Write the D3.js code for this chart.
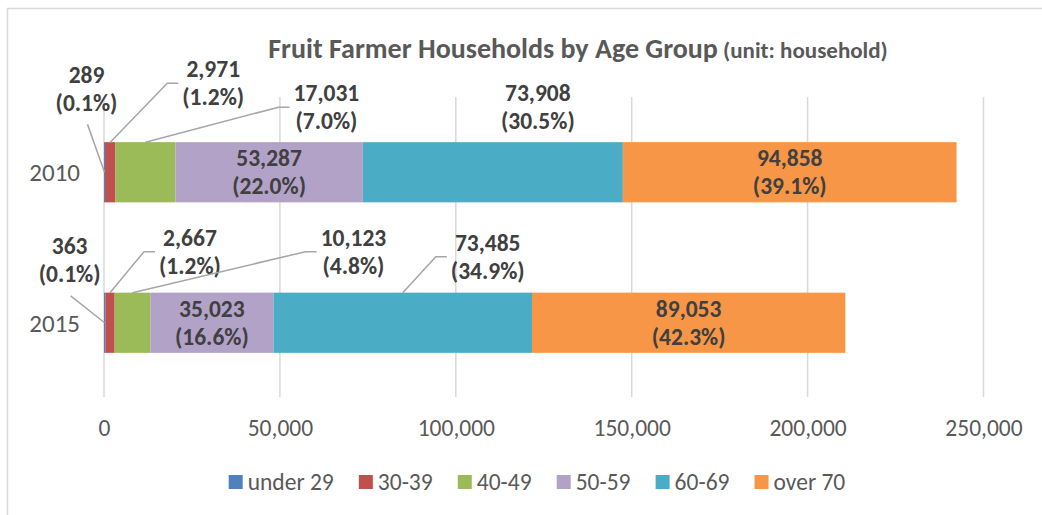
<!DOCTYPE html>
<html>
<head>
<meta charset="utf-8">
<script src="https://cdn.jsdelivr.net/npm/d3@7"></script>
<style>
  html, body { margin: 0; padding: 0; background: #fff; }
  svg { display: block; font-family: Carlito, Lato, "Open Sans", sans-serif; }
</style>
</head>
<body>
<svg id="chart" width="1042" height="515"></svg>
<script>
// ---------------- data ----------------
const categories = ["2010", "2015"];
const seriesNames = ["under 29", "30-39", "40-49", "50-59", "60-69", "over 70"];
const values2010 = [289, 2971, 17031, 53287, 73908, 94858];
const values2015 = [363, 2667, 10123, 35023, 73485, 89053];
const percent2010 = ["0.1%", "1.2%", "7.0%", "22.0%", "30.5%", "39.1%"];
const percent2015 = ["0.1%", "1.2%", "4.8%", "16.6%", "34.9%", "42.3%"];
const xTickValues = [0, 50000, 100000, 150000, 200000, 250000];
const titleMain = "Fruit Farmer Households by Age Group";
const titleUnit = " (unit: household)";

// ---------------- styles / layout ----------------
const colors = ["#4F81BD", "#C0504D", "#9BBB59", "#B3A2C7", "#4BACC6", "#F79646"];
const W = 1042, H = 515;
const plot = { left: 104, right: 983.5, top: 97, bottom: 398 };
const labelColor = "#404040";
const axisTextColor = "#595959";
const gridColor = "#D9D9D9";
const leaderColor = "#A6A6A6";

// label placement: "inside" = centred in segment; otherwise offsets (px) from the segment's top-centre
// leader: "stub" = horizontal stub at the label's left then a line to the bar top,
//         "drop" = from under the label to the segment's mid-height
const labelPlacement = {
  "2010": [
    { dx: -18, dy: -53, leader: "drop", gap: 7 },
    { dx: 103, dy: -59, leader: "stub" },
    { dx: 181, dy: -35, leader: "stub" },
    { inside: true },
    { dx: 45, dy: -35, leader: "none" },
    { inside: true }
  ],
  "2015": [
    { dx: -35, dy: -33, leader: "drop", gap: 8 },
    { dx: 80, dy: -41, leader: "stub" },
    { dx: 221, dy: -41, leader: "stub" },
    { inside: true },
    { dx: 85, dy: -36, leader: "stub" },
    { inside: true }
  ]
};

const valuesByCat = { "2010": values2010, "2015": values2015 };
const pctByCat = { "2010": percent2010, "2015": percent2015 };

const rows = categories.map(c => {
  const r = { category: c };
  seriesNames.forEach((s, i) => r[s] = valuesByCat[c][i]);
  return r;
});
const stacked = d3.stack().keys(seriesNames)(rows);

const svg = d3.select("#chart");

// chart border (Excel chart area)
svg.append("rect")
  .attr("x", 7.5).attr("y", 8.5)
  .attr("width", W + 20).attr("height", H + 20)
  .attr("fill", "#fff")
  .attr("stroke", "#D9D9D9").attr("stroke-width", 1.5);

const x = d3.scaleLinear().domain([0, 250000]).range([plot.left, plot.right]);
const y = d3.scaleBand().domain(categories).range([plot.top, plot.bottom])
  .paddingInner(0.6).paddingOuter(0.3);

// gridlines
svg.append("g").selectAll("line").data(xTickValues).join("line")
  .attr("x1", d => x(d)).attr("x2", d => x(d))
  .attr("y1", plot.top).attr("y2", plot.bottom - 1)
  .attr("stroke", gridColor).attr("stroke-width", 1.5);

// x axis
const xAxis = svg.append("g")
  .attr("transform", `translate(0,${plot.bottom})`)
  .call(d3.axisBottom(x).tickValues(xTickValues).tickFormat(d3.format(",")).tickSize(0).tickPadding(0));
xAxis.select(".domain").remove();
xAxis.selectAll("text")
  .attr("y", 38).attr("dy", 0)
  .attr("fill", axisTextColor)
  .style("font-size", "23.5px")
  .style("font-family", "Carlito, Lato, sans-serif");

// y axis
const yAxis = svg.append("g")
  .attr("transform", `translate(${plot.left},0)`)
  .call(d3.axisLeft(y).tickSize(0).tickPadding(24));
yAxis.select(".domain").remove();
yAxis.selectAll("text")
  .attr("fill", axisTextColor)
  .attr("dy", "0.35em")
  .style("font-size", "25px")
  .style("font-family", "Carlito, Lato, sans-serif");

// bars
const layers = svg.append("g").selectAll("g").data(stacked).join("g")
  .attr("fill", (d, i) => colors[i]);
layers.selectAll("rect").data(d => d.map(p => ({ p, cat: p.data.category }))).join("rect")
  .attr("x", d => x(d.p[0]))
  .attr("width", d => x(d.p[1]) - x(d.p[0]))
  .attr("y", d => y(d.cat))
  .attr("height", y.bandwidth());

// data labels
const fmt = d3.format(",");
const labelG = svg.append("g");
const leaderG = svg.append("g");
const lineGap = 28;

categories.forEach(cat => {
  seriesNames.forEach((s, i) => {
    const layer = stacked[i];
    const p = layer.find(pp => pp.data.category === cat);
    const cx = x((p[0] + p[1]) / 2);
    const top = y(cat);
    const mid = top + y.bandwidth() / 2;
    const spec = labelPlacement[cat][i];
    let lx, ly;
    if (spec.inside) { lx = cx; ly = mid; }
    else { lx = cx + spec.dx; ly = top + spec.dy; }
    const t = labelG.append("text")
      .attr("x", lx).attr("y", ly)
      .attr("text-anchor", "middle")
      .attr("fill", labelColor)
      .style("font-size", "23.5px")
      .style("font-weight", "bold");
    t.append("tspan").attr("x", lx).attr("y", ly - lineGap / 2).attr("dy", "0.35em")
      .text(fmt(valuesByCat[cat][i]));
    t.append("tspan").attr("x", lx).attr("y", ly + lineGap / 2).attr("dy", "0.35em")
      .text("(" + pctByCat[cat][i] + ")");

    if (!spec.inside && spec.leader === "stub") {
      const bb = t.node().getBBox();
      const sx = bb.x - 4;
      const sy = ly;
      leaderG.append("polyline")
        .attr("points", [[sx, sy], [sx - 11, sy], [cx, top]].map(q => q.join(",")).join(" "))
        .attr("fill", "none").attr("stroke", leaderColor).attr("stroke-width", 1.5);
    } else if (!spec.inside && spec.leader === "drop") {
      const bb = t.node().getBBox();
      const sx = lx + 1;
      const sy = bb.y + bb.height + spec.gap;
      leaderG.append("line")
        .attr("x1", sx).attr("y1", sy)
        .attr("x2", cx).attr("y2", mid)
        .attr("stroke", leaderColor).attr("stroke-width", 1.5);
    }
  });
});

// title
const title = svg.append("text")
  .attr("x", 578).attr("y", 58)
  .attr("text-anchor", "middle")
  .attr("fill", axisTextColor)
  .style("font-weight", "bold");
title.append("tspan").style("font-size", "28px").text(titleMain);
title.append("tspan").style("font-size", "23px").text(titleUnit);

// legend
const legendGap = 25;
const legend = svg.append("g");
const items = legend.selectAll("g").data(seriesNames).join("g");
items.append("rect").attr("width", 14).attr("height", 14).attr("y", -7)
  .attr("fill", (d, i) => colors[i]);
items.append("text").attr("x", 19).attr("dy", "0.35em")
  .attr("fill", axisTextColor)
  .style("font-size", "23.5px")
  .text(d => d);
let cur = 0;
items.each(function () {
  d3.select(this).attr("transform", `translate(${cur},0)`);
  cur += this.getBBox().width + legendGap;
});
const totalW = cur - legendGap;
legend.attr("transform", `translate(${537 - totalW / 2},482)`);
</script>
</body>
</html>
